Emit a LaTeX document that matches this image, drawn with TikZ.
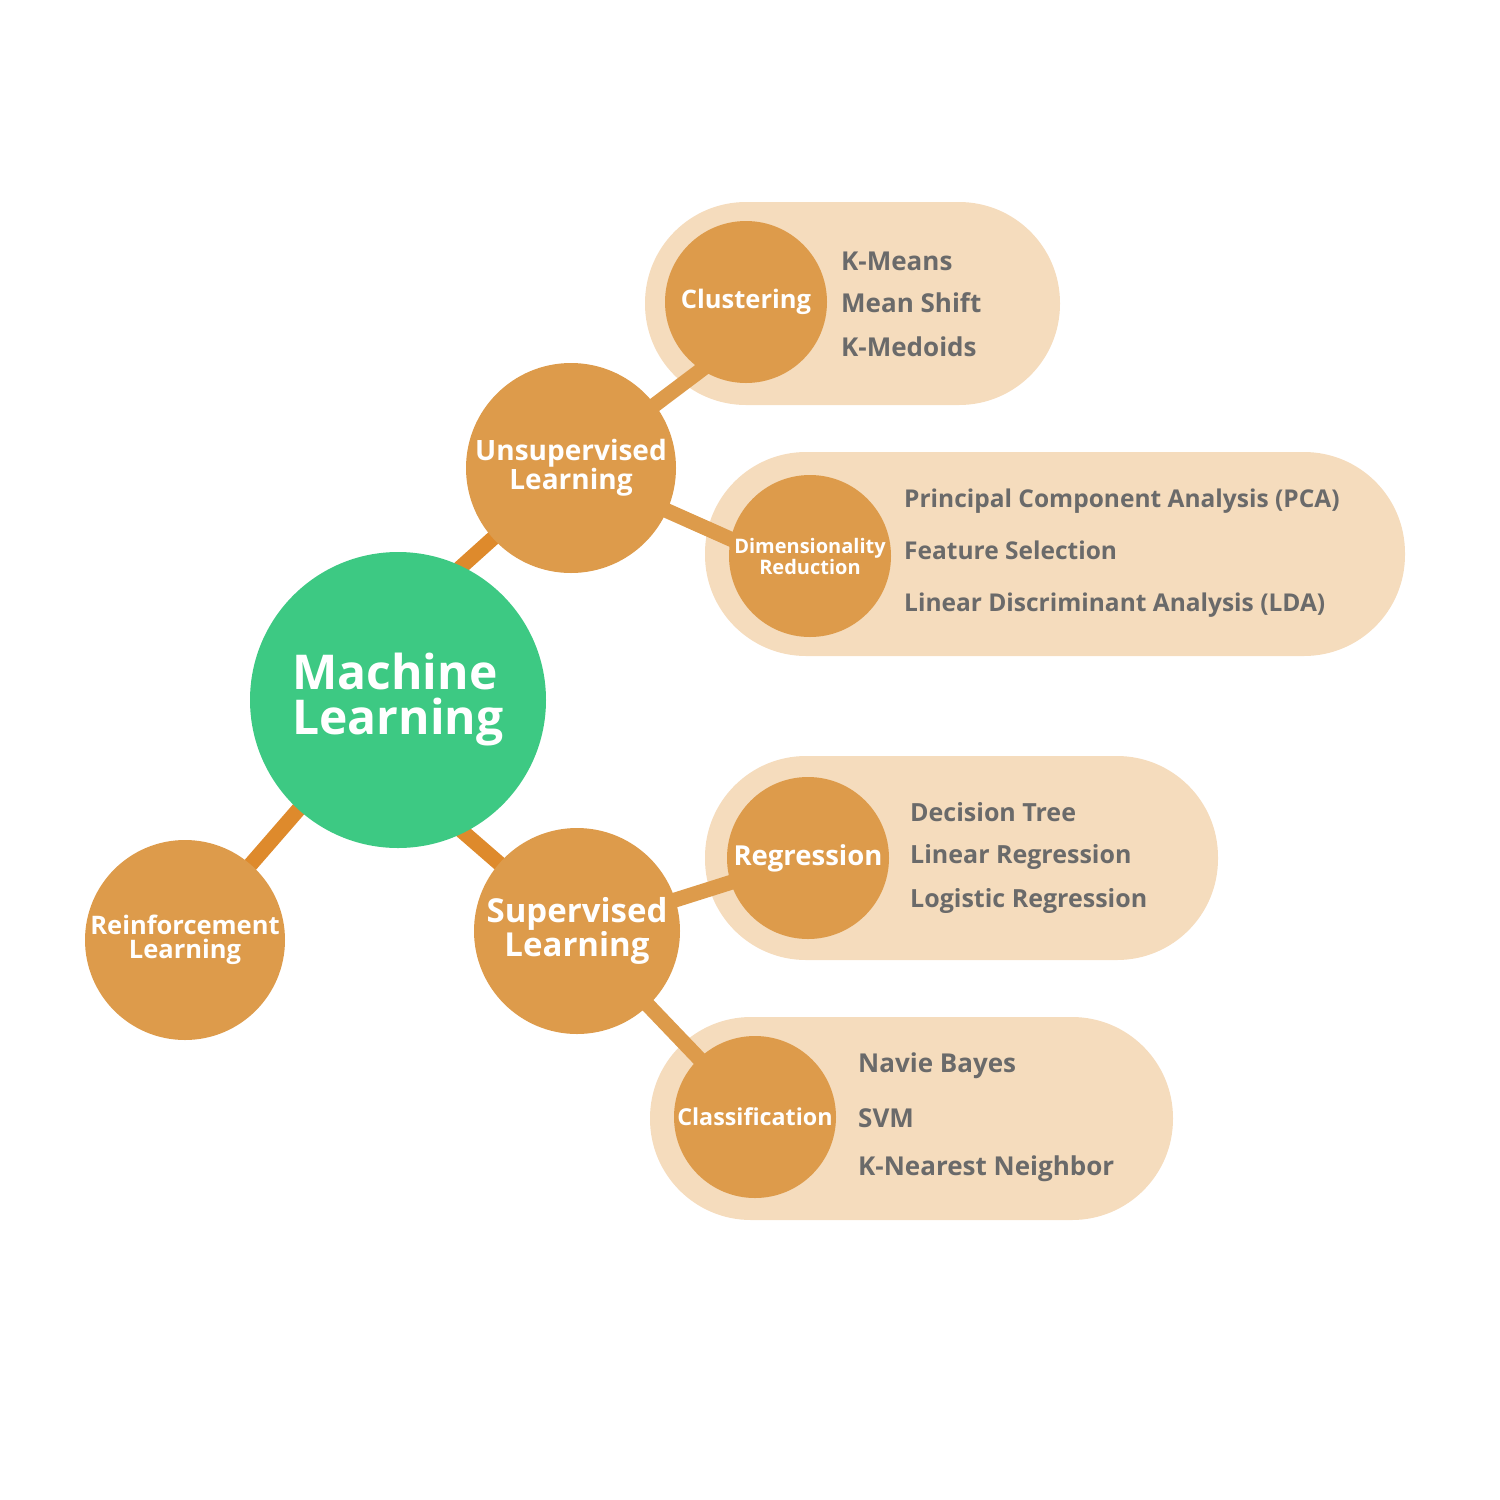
\documentclass[tikz,border=0pt]{standalone}
\usepackage{fontspec}
\setmainfont{Open Sans}
\definecolor{mlgreen}{HTML}{3DC983}
\definecolor{orangeC}{HTML}{DD9B4B}
\definecolor{orangeL}{HTML}{DE8A2C}
\definecolor{pillC}{HTML}{F5DCBD}
\definecolor{itemC}{HTML}{6A6A6A}
\pgfdeclarelayer{bg}\pgfdeclarelayer{mid}\pgfsetlayers{bg,mid,main}
\tikzset{
  circ/.style={circle, fill=orangeC, text=white, align=center, inner sep=0pt},
  pill/.style={rectangle, fill=pillC, rounded corners=101pt, inner sep=0pt},
  item/.style={anchor=west, text=itemC, font=\bfseries\fontsize{#1}{#1}\selectfont, inner sep=0pt},
  item/.default=25,
  link/.style={line width=15pt, orangeC},
  mllink/.style={line width=15pt, orangeL},
}
\begin{document}
\begin{tikzpicture}[x=1pt,y=-1pt]
\useasboundingbox (0,0) rectangle (1500,1500);
% pills
\begin{pgfonlayer}{bg}
\node[pill, minimum width=415pt, minimum height=203pt] (clustP) at (852.5,303.5) {};
\node[pill, minimum width=700pt, minimum height=204pt] (dimP) at (1055,554) {};
\node[pill, minimum width=513pt, minimum height=204pt] (regP) at (961.5,858) {};
\node[pill, minimum width=523pt, minimum height=203pt] (classP) at (911.5,1118.5) {};
\end{pgfonlayer}
% circles
\node[circle, fill=mlgreen, text=white, minimum size=296pt, inner sep=0pt, align=left,
  font=\bfseries\fontsize{48}{45}\selectfont] (ml) at (398,700) {Machine\\Learning};
\node[circ, minimum size=210pt, font=\bfseries\fontsize{28}{26}\selectfont] (unsup) at (571,468) {Unsupervised\\Learning};
\node[circ, minimum size=206pt, font=\bfseries\fontsize{33}{31}\selectfont] (sup) at (577,931) {Supervised\\Learning};
\node[circ, minimum size=200pt, font=\bfseries\fontsize{25.5}{24}\selectfont] (reinf) at (185,940) {Reinforcement\\Learning};
\node[circ, minimum size=162pt, font=\bfseries\fontsize{25.5}{25}\selectfont] (clust) at (746,302) {Clustering};
\node[circ, minimum size=162pt, font=\bfseries\fontsize{20}{19}\selectfont] (dim) at (810,556) {Dimensionality\\Reduction};
\node[circ, minimum size=162pt, font=\bfseries\fontsize{27.5}{27}\selectfont] (reg) at (808,858) {Regression};
\node[circ, minimum size=162pt, font=\bfseries\fontsize{23.3}{23}\selectfont] (class) at (755,1117) {Classification};
% connectors
\begin{pgfonlayer}{mid}
\draw[mllink] (unsup.center) -- ++(138:165);
\draw[mllink] (sup.center) -- ++(221:165);
\draw[mllink] (reinf.center) -- ++(311:180);
\draw[link] (unsup.center) -- ++(323:200);
\draw[link] (unsup.center) -- ++(24:250);
\draw[link] (sup.center) -- (reg.center);
\draw[link] (sup.center) -- (class.center);
\end{pgfonlayer}
% items
\node[item=26] (km) at (841,261) {K-Means};
\node[item=26] (ms) at (841,303) {Mean Shift};
\node[item=26] (kmed) at (841,347) {K-Medoids};
\node[item=24.5] (pca) at (904,501) {Principal Component Analysis (PCA)};
\node[item=24.5] (fs) at (904,550) {Feature Selection};
\node[item=24.5] (lda) at (904,605) {Linear Discriminant Analysis (LDA)};
\node[item=25] (dt) at (910,812) {Decision Tree};
\node[item=25] (lr) at (910,857) {Linear Regression};
\node[item=25] (logr) at (910,901) {Logistic Regression};
\node[item=26] (nb) at (858,1066) {Navie Bayes};
\node[item=26] (svm) at (858,1118) {SVM};
\node[item=26] (knn) at (858,1169) {K-Nearest Neighbor};
\end{tikzpicture}
\end{document}
